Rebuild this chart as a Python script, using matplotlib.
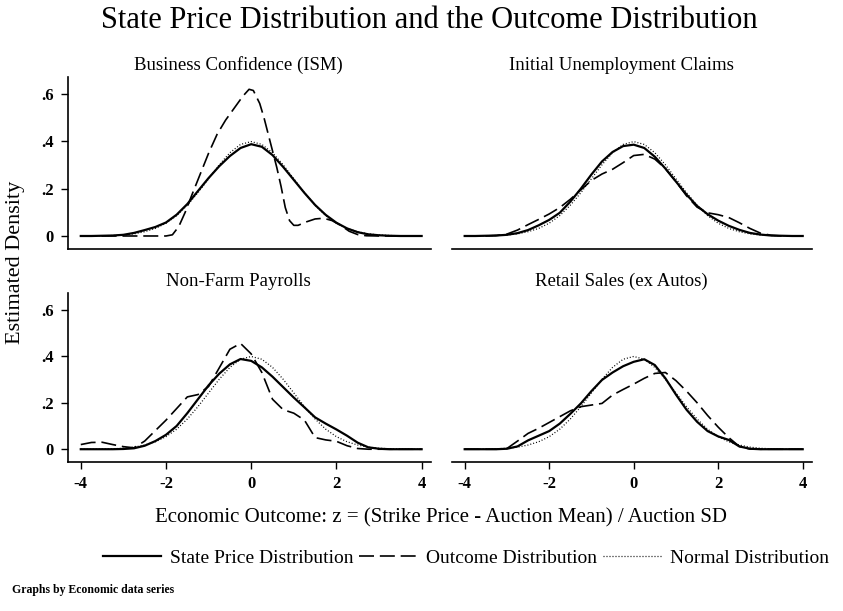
import matplotlib
matplotlib.use("Agg")
import matplotlib.pyplot as plt
from matplotlib.lines import Line2D

plt.rcParams['font.family'] = ['Liberation Serif', 'DejaVu Serif']

# ---------------- data ----------------
z_grid = [-4, -3.75, -3.5, -3.25, -3, -2.75, -2.5, -2.25, -2, -1.75, -1.5, -1.25,
          -1, -0.75, -0.5, -0.25, 0, 0.25, 0.5, 0.75, 1, 1.25, 1.5, 1.75,
          2, 2.25, 2.5, 2.75, 3, 3.25, 3.5, 3.75, 4]

normal_density = [0.000, 0.000, 0.001, 0.002, 0.004, 0.009, 0.018, 0.032, 0.054, 0.086, 0.130, 0.183,
                  0.242, 0.301, 0.352, 0.387, 0.399, 0.387, 0.352, 0.301, 0.242, 0.183, 0.130, 0.086,
                  0.054, 0.032, 0.018, 0.009, 0.004, 0.002, 0.001, 0.000, 0.000]

# Business Confidence (ISM)
bc_state = [0, 0, 0.001, 0.002, 0.005, 0.013, 0.025, 0.038, 0.057, 0.090, 0.135, 0.190,
            0.245, 0.295, 0.338, 0.372, 0.388, 0.377, 0.342, 0.292, 0.237, 0.182, 0.131, 0.089,
            0.056, 0.032, 0.016, 0.007, 0.003, 0.001, 0, 0, 0]
bc_outcome_z = [-4, -3, -2, -1.85, -1.7, -1.55, -1.4, -1.2, -1.0, -0.8, -0.6, -0.4, -0.2, -0.05,
                0.05, 0.2, 0.3, 0.4, 0.5, 0.6, 0.7, 0.8, 0.9, 1.0, 1.1, 1.3, 1.5, 1.7, 1.9,
                2.1, 2.3, 2.5, 2.7, 3, 4]
bc_outcome = [0, 0, 0, 0.005, 0.04, 0.10, 0.17, 0.26, 0.35, 0.43, 0.49, 0.54, 0.59, 0.62,
              0.615, 0.56, 0.50, 0.43, 0.36, 0.29, 0.21, 0.12, 0.065, 0.045, 0.045, 0.06, 0.072, 0.075, 0.065,
              0.045, 0.02, 0.006, 0.001, 0, 0]

# Initial Unemployment Claims
iuc_state = [0, 0, 0.001, 0.002, 0.005, 0.012, 0.025, 0.045, 0.068, 0.098, 0.145, 0.200,
             0.260, 0.315, 0.355, 0.380, 0.386, 0.372, 0.335, 0.285, 0.230, 0.175, 0.127, 0.092,
             0.065, 0.043, 0.026, 0.013, 0.006, 0.002, 0.001, 0, 0]
iuc_outcome = [0, 0, 0, 0.002, 0.008, 0.025, 0.048, 0.070, 0.093, 0.120, 0.155, 0.195,
               0.235, 0.262, 0.282, 0.310, 0.340, 0.345, 0.325, 0.285, 0.230, 0.170, 0.122, 0.098,
               0.090, 0.078, 0.056, 0.032, 0.012, 0.003, 0, 0, 0]

# Non-Farm Payrolls
nfp_state = [0, 0, 0, 0, 0.001, 0.004, 0.015, 0.035, 0.062, 0.100, 0.155, 0.215,
             0.275, 0.325, 0.365, 0.388, 0.380, 0.352, 0.312, 0.267, 0.222, 0.180, 0.137, 0.110,
             0.085, 0.058, 0.028, 0.008, 0.002, 0, 0, 0, 0]
nfp_outcome = [0.020, 0.029, 0.030, 0.020, 0.011, 0.006, 0.035, 0.080, 0.125, 0.175, 0.225, 0.235,
               0.270, 0.350, 0.430, 0.455, 0.410, 0.330, 0.215, 0.170, 0.155, 0.125, 0.050, 0.040,
               0.034, 0.015, 0.003, 0, 0, 0, 0, 0, 0]

# Retail Sales (ex Autos)
rs_state = [0, 0, 0, 0, 0.002, 0.012, 0.038, 0.058, 0.078, 0.110, 0.152, 0.197,
            0.250, 0.298, 0.330, 0.357, 0.376, 0.387, 0.362, 0.305, 0.235, 0.170, 0.118, 0.078,
            0.055, 0.040, 0.012, 0.002, 0, 0, 0, 0, 0]
rs_outcome = [0, 0, 0, 0, 0.003, 0.035, 0.068, 0.090, 0.115, 0.140, 0.165, 0.183,
              0.190, 0.197, 0.233, 0.257, 0.280, 0.305, 0.326, 0.330, 0.295, 0.250, 0.200, 0.145,
              0.095, 0.050, 0.012, 0.001, 0, 0, 0, 0, 0]

panel_titles = ["Business Confidence (ISM)", "Initial Unemployment Claims",
                "Non-Farm Payrolls", "Retail Sales (ex Autos)"]
state_series = [bc_state, iuc_state, nfp_state, rs_state]
outcome_z = [bc_outcome_z, z_grid, z_grid, z_grid]
outcome_series = [bc_outcome, iuc_outcome, nfp_outcome, rs_outcome]

y_ticks = [0, 0.2, 0.4, 0.6]
y_ticklabels = ["0", ".2", ".4", ".6"]
x_ticks = [-4, -2, 0, 2, 4]
x_ticklabels = ["-4", "-2", "0", "2", "4"]

legend_labels = ["State Price Distribution", "Outcome Distribution", "Normal Distribution"]

# ---------------- figure ----------------
W, H = 843, 611
fig = plt.figure(figsize=(W / 100, H / 100), dpi=100)
fig.patch.set_facecolor("white")

def frac(x0, y0, x1, y1):
    return [x0 / W, 1 - y1 / H, (x1 - x0) / W, (y1 - y0) / H]

rects = [frac(68, 77, 431, 249), frac(452, 77, 812, 249),
         frac(68, 293, 431, 462), frac(452, 293, 812, 462)]

solid_kw = dict(color="black", lw=1.6, linestyle="-", solid_joinstyle="round")
dash_kw = dict(color="black", lw=1.2, linestyle=(0, (9, 3.5)))
dot_kw = dict(color="black", lw=0.9, linestyle=(0, (0.8, 1.6)))

for i, rect in enumerate(rects):
    ax = fig.add_axes(rect)
    ax.plot(z_grid, normal_density, **dot_kw)
    ax.plot(outcome_z[i], outcome_series[i], **dash_kw)
    ax.plot(z_grid, state_series[i], **solid_kw)
    ax.set_xlim(-4.3, 4.22)
    ax.set_ylim(-0.055, 0.672)
    for s in ["top", "right"]:
        ax.spines[s].set_visible(False)
    ax.spines["bottom"].set_linewidth(1.2)
    ax.spines["left"].set_linewidth(1.2)
    ax.set_title(panel_titles[i], fontsize=13.5, pad=5, x=0.47)
    col = i % 2
    row = i // 2
    if col == 0:
        ax.set_yticks(y_ticks)
        ax.set_yticklabels(y_ticklabels, fontsize=12, fontweight="bold")
        ax.tick_params(axis="y", length=5, width=1, pad=5)
    else:
        ax.spines["left"].set_visible(False)
        ax.set_yticks([])
    if row == 1:
        ax.set_xticks(x_ticks)
        ax.set_xticklabels(x_ticklabels, fontsize=12, fontweight="bold")
        ax.tick_params(axis="x", length=5, width=1, pad=5)
    else:
        ax.set_xticks([])

fig.text(0.5 * (98 + 760) / W, 1 - 20 / H,
         "State Price Distribution and the Outcome Distribution",
         ha="center", va="center", fontsize=22)
fig.text(16 / W, 1 - 262 / H, "Estimated Density", rotation=90,
         ha="center", va="center", fontsize=16)
fig.text(441 / W, 1 - 518 / H,
         "Economic Outcome: z = (Strike Price - Auction Mean) / Auction SD",
         ha="center", va="center", fontsize=15)

handles = [Line2D([], [], **solid_kw), Line2D([], [], **dash_kw), Line2D([], [], **dot_kw)]
fig.legend(handles, legend_labels, loc="center", bbox_to_anchor=(466 / W, 1 - 558 / H),
           ncol=3, frameon=False, fontsize=14, handlelength=3.0, handletextpad=0.45,
           columnspacing=0.3, borderpad=0)

fig.text(12 / W, 1 - 590 / H, "Graphs by Economic data series",
         ha="left", va="center", fontsize=8.5, fontweight="bold")

fig.savefig("out.png", dpi=100, facecolor="white")
